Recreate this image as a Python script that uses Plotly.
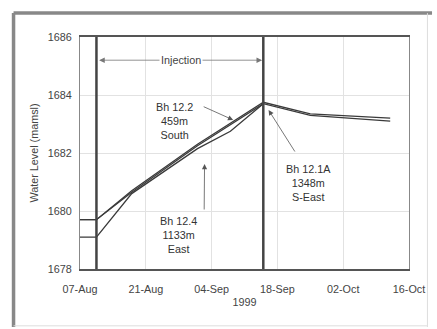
import plotly.graph_objects as go

# ---- data ----
dates_122 = ["1999-08-07", "1999-08-10 12:00", "1999-08-18", "1999-09-01", "1999-09-15", "1999-09-25", "1999-10-12"]
level_122 = [1679.7, 1679.7, 1680.7, 1682.3, 1683.75, 1683.35, 1683.2]

dates_124 = ["1999-08-07", "1999-08-10 12:00", "1999-08-18", "1999-09-01", "1999-09-08", "1999-09-15"]
level_124 = [1679.1, 1679.1, 1680.6, 1682.15, 1682.75, 1683.7]

dates_121a = ["1999-08-07", "1999-08-10 12:00", "1999-08-18", "1999-09-01", "1999-09-15", "1999-09-25", "1999-10-12"]
level_121a = [1679.7, 1679.7, 1680.65, 1682.25, 1683.7, 1683.3, 1683.1]

injection_start = "1999-08-10 12:00"
injection_end = "1999-09-15"

x_range = ["1999-08-07", "1999-10-16"]
y_range = [1678, 1686]
y_ticks = [1678, 1680, 1682, 1684, 1686]

LINE = "#3a3a3a"
TXT = "#444"
FONT = "Liberation Sans"
FS = 10.8

fig = go.Figure()
for d, v in [(dates_122, level_122), (dates_121a, level_121a), (dates_124, level_124)]:
    fig.add_trace(go.Scatter(x=d, y=v, mode="lines",
                             line=dict(color=LINE, width=1.3), showlegend=False))

# injection bounding vertical lines
for d in [injection_start, injection_end]:
    fig.add_shape(type="line", xref="x", yref="y", x0=d, x1=d, y0=y_range[0], y1=y_range[1],
                  line=dict(color="#444", width=2.5))

# injection double arrow
fig.add_annotation(x="1999-09-14 18:00", y=1685.2, ax="1999-08-10 18:00", ay=1685.2,
                   xref="x", yref="y", axref="x", ayref="y", text="",
                   showarrow=True, arrowhead=2, arrowside="end+start",
                   arrowsize=1.4, arrowwidth=0.8, arrowcolor="#777")
fig.add_annotation(x="1999-08-28 12:00", y=1685.2, xref="x", yref="y", text="Injection",
                   showarrow=False, bgcolor="white", font=dict(size=FS, color=TXT, family=FONT))

# labels
labels = [
    ("1999-08-27", 1683.1, "Bh 12.2<br>459m<br>South"),
    ("1999-08-28", 1679.17, "Bh 12.4<br>1133m<br>East"),
    ("1999-09-24 14:00", 1680.97, "Bh 12.1A<br>1348m<br>S-East"),
]
for x, y, t in labels:
    fig.add_annotation(x=x, y=y, xref="x", yref="y", text=t, showarrow=False,
                       font=dict(size=FS, color="#333", family=FONT), align="center")

# label arrows
arrows = [
    ("1999-09-08 14:00", 1683.14, "1999-09-02", 1683.62),
    ("1999-09-02 12:00", 1681.62, "1999-09-02 10:00", 1680.0),
    ("1999-09-16 03:00", 1683.48, "1999-09-21 22:00", 1682.0),
]
for x, y, ax, ay in arrows:
    fig.add_annotation(x=x, y=y, ax=ax, ay=ay, xref="x", yref="y", axref="x", ayref="y",
                       text="", showarrow=True, arrowhead=2, arrowsize=1.3,
                       arrowwidth=0.8, arrowcolor="#555")

# outer frame
fig.add_shape(type="line", xref="paper", yref="paper", x0=-0.202, x1=-0.202, y0=-0.25, y1=1.103,
              line=dict(color="#888", width=3.5))
fig.add_shape(type="line", xref="paper", yref="paper", x0=-0.202, x1=1.07, y0=1.103, y1=1.103,
              line=dict(color="#888", width=3.5))
fig.add_shape(type="line", xref="paper", yref="paper", x0=1.056, x1=1.056, y0=-0.25, y1=1.103,
              line=dict(color="#ddd", width=1))
fig.add_shape(type="line", xref="paper", yref="paper", x0=-0.202, x1=1.056, y0=-0.245, y1=-0.245,
              line=dict(color="#ddd", width=1))

fig.update_xaxes(type="date", range=x_range, tick0="1999-08-07", dtick=14 * 86400000,
                 tickformat="%d-%b", showgrid=True, gridcolor="#e2e2e2", gridwidth=1,
                 showline=True, linecolor="#555", linewidth=1.5, mirror=True, ticks="",
                 ticklabelstandoff=9,
                 tickfont=dict(size=FS, color=TXT, family=FONT),
                 title=dict(text="1999", font=dict(size=FS, color=TXT, family=FONT), standoff=5),
                 zeroline=False)
fig.update_yaxes(range=y_range, tickvals=y_ticks, showgrid=True, gridcolor="#e2e2e2",
                 showline=True, linecolor="#888", linewidth=1, mirror=True, ticks="",
                 ticklabelstandoff=5,
                 tickfont=dict(size=FS, color=TXT, family=FONT),
                 title=dict(text="Water Level (mamsl)", font=dict(size=FS, color=TXT, family=FONT), standoff=7),
                 zeroline=False)

fig.update_layout(width=437, height=329, margin=dict(l=80, r=20, t=37, b=60),
                  paper_bgcolor="white", plot_bgcolor="white", showlegend=False)

fig.write_html("out.html", config={"displayModeBar": False},
               post_script="document.body.style.margin='0';")
